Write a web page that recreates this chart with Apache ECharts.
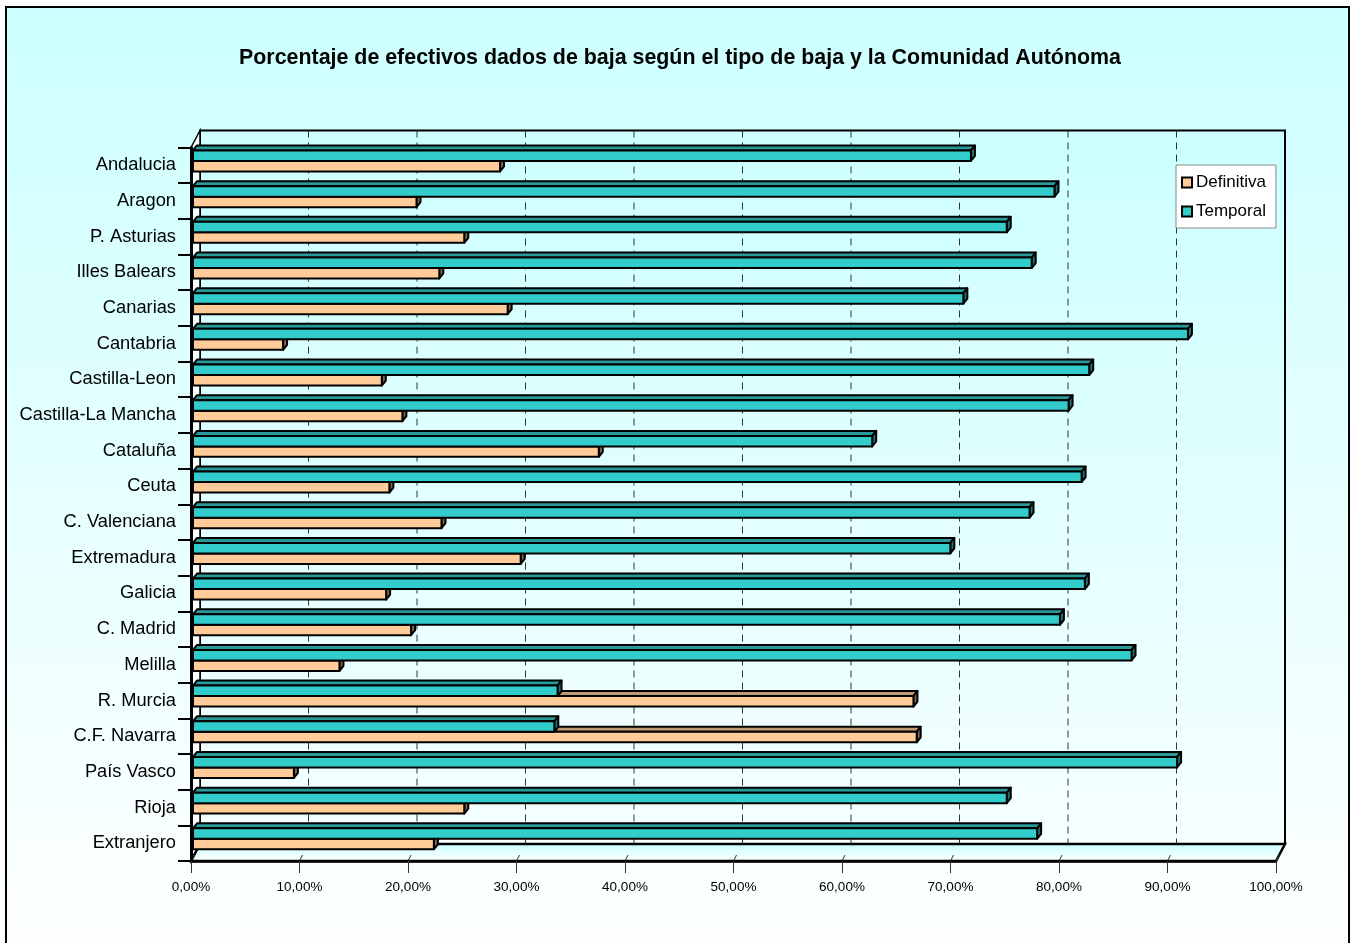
<!DOCTYPE html>
<html>
<head>
<meta charset="utf-8">
<title>Porcentaje de efectivos dados de baja</title>
<script src="https://cdn.jsdelivr.net/npm/echarts@6/dist/echarts.min.js"></script>
<style>
  html, body { margin: 0; padding: 0; background: #fff; }
  #chart { width: 1354px; height: 943px; }
</style>
</head>
<body>
<div id="chart"></div>
<script>
// datos (porcentaje sobre el total de bajas)
const categories = [
  "Andalucia", "Aragon", "P. Asturias", "Illes Balears", "Canarias", "Cantabria",
  "Castilla-Leon", "Castilla-La Mancha", "Cataluña", "Ceuta", "C. Valenciana",
  "Extremadura", "Galicia", "C. Madrid", "Melilla", "R. Murcia", "C.F. Navarra",
  "País Vasco", "Rioja", "Extranjero"
];
const definitiva = [28.3, 20.6, 25.0, 22.7, 29.0, 8.3, 17.4, 19.3, 37.4, 18.1,
                    22.9, 30.2, 17.8, 20.1, 13.5, 66.4, 66.7, 9.3, 25.0, 22.2];
const temporal = [71.7, 79.4, 75.0, 77.3, 71.0, 91.7, 82.6, 80.7, 62.6, 81.9,
                  77.1, 69.8, 82.2, 79.9, 86.5, 33.6, 33.3, 90.7, 75.0, 77.8];
const xTicks = [0, 10, 20, 30, 40, 50, 60, 70, 80, 90, 100];

const FONT = "Liberation Sans, Arial, sans-serif";
// profundidad 3D de las paredes y de las barras
const DX = 9, DY = -17;
const BDX = 4, BDY = -5;

const chart = echarts.init(document.getElementById("chart"));

function grad(c1, c2) {
  return new echarts.graphic.LinearGradient(0, 0, 0, 1, [
    { offset: 0, color: c1 },
    { offset: 1, color: c2 }
  ]);
}

// paredes, suelo y lineas de division
function renderFrame(params, api) {
  const n = categories.length;
  const bh = Math.abs(api.size([0, 1])[1]);
  const yTop = api.coord([0, 0])[1] - bh / 2;
  const yBot = api.coord([0, n - 1])[1] + bh / 2;
  const x0 = api.coord([xTicks[0], 0])[0];
  const x1 = api.coord([xTicks[xTicks.length - 1], 0])[0];
  const children = [];
  // pared del fondo
  children.push({
    type: "rect",
    shape: { x: x0 + DX, y: yTop + DY, width: x1 - x0, height: yBot - yTop },
    style: { fill: grad("#CCFFFF", "#F6FFFF"), stroke: "#000", lineWidth: 2 }
  });
  // pared izquierda
  children.push({
    type: "polygon",
    shape: { points: [[x0, yTop], [x0 + DX, yTop + DY], [x0 + DX, yBot + DY], [x0, yBot]] },
    style: { fill: grad("#F4FFFF", "#FFFFFF"), stroke: "#000", lineWidth: 1.5 }
  });
  // suelo
  children.push({
    type: "polygon",
    shape: { points: [[x0, yBot], [x1, yBot], [x1 + DX, yBot + DY], [x0 + DX, yBot + DY]] },
    style: { fill: grad("#C8FFFF", "#FFFFFF"), stroke: "#000", lineWidth: 2.5 }
  });
  xTicks.forEach(function (v) {
    const x = api.coord([v, 0])[0];
    if (v > xTicks[0] && v < xTicks[xTicks.length - 1]) {
      children.push({
        type: "line",
        shape: { x1: x + DX, y1: yTop + DY, x2: x + DX, y2: yBot + DY },
        style: { stroke: "#333", lineWidth: 1, lineDash: [7, 5] }
      });
    }
    children.push({
      type: "line",
      shape: { x1: x + 3, y1: yBot - 6, x2: x, y2: yBot },
      style: { stroke: "#333", lineWidth: 1 }
    });
  });
  return { type: "group", children: children };
}

// barra 3D: cara frontal, cara superior y lateral
function barRenderer(front, top, side, from, to) {
  return function (params, api) {
    const cat = api.value(1);
    const c = api.coord([0, cat]);
    const e = api.coord([api.value(0), cat]);
    const bh = Math.abs(api.size([0, 1])[1]);
    const yb = c[1] - bh / 2;
    const xa = c[0] + 2, xb = e[0] + 2;
    const ya = yb + bh * from, yz = yb + bh * to;
    const line = { stroke: "#000", lineWidth: 2, lineJoin: "round" };
    return {
      type: "group",
      children: [
        {
          type: "polygon",
          shape: { points: [[xa, ya], [xb, ya], [xb + BDX, ya + BDY], [xa + BDX, ya + BDY]] },
          style: Object.assign({ fill: top }, line)
        },
        {
          type: "polygon",
          shape: { points: [[xb, ya], [xb + BDX, ya + BDY], [xb + BDX, yz + BDY], [xb, yz]] },
          style: Object.assign({ fill: side }, line)
        },
        {
          type: "rect",
          shape: { x: xa, y: ya, width: xb - xa, height: yz - ya },
          style: Object.assign({ fill: front }, line)
        }
      ]
    };
  };
}

const opt = {
  backgroundColor: "#fff",
  animation: false,
  graphic: {
    elements: [{
      type: "rect",
      z: -10,
      silent: true,
      shape: { x: 6, y: 7, width: 1343, height: 960 },
      style: { fill: grad("#CCFFFF", "#FFFFFF"), stroke: "#000", lineWidth: 2 }
    }]
  },
  title: {
    text: "Porcentaje de efectivos dados de baja según el tipo de baja y la Comunidad Autónoma",
    left: 234,
    top: 43,
    textStyle: { fontFamily: FONT, fontSize: 21.4, fontWeight: "bold", color: "#000" }
  },
  legend: {
    data: ["Definitiva", "Temporal"],
    orient: "vertical",
    left: 1176,
    top: 165,
    padding: [9, 10, 8, 5],
    itemGap: 12,
    itemWidth: 10,
    itemHeight: 10,
    icon: "rect",
    backgroundColor: "#fff",
    borderColor: "#888",
    borderWidth: 1,
    borderRadius: 0,
    textStyle: { fontFamily: FONT, fontSize: 17, color: "#000", padding: [0, 0, 0, -1] }
  },
  grid: {
    left: 191,
    right: 78,
    top: 147.5,
    bottom: 82,
    containLabel: false,
    outerBoundsMode: "none"
  },
  xAxis: {
    type: "value",
    min: 0,
    max: 100,
    interval: 10,
    z: 5,
    axisLine: { show: true, lineStyle: { color: "#000", width: 2.5 } },
    axisTick: { show: true, length: 12, lineStyle: { color: "#333", width: 1 } },
    splitLine: { show: false },
    axisLabel: {
      margin: 19,
      fontFamily: FONT,
      fontSize: 13.5,
      color: "#000",
      formatter: function (v) { return v.toFixed(2).replace(".", ",") + "%"; }
    }
  },
  yAxis: {
    type: "category",
    data: categories,
    inverse: true,
    z: 5,
    axisLine: { show: true, lineStyle: { color: "#000", width: 3 } },
    axisTick: { show: true, length: 13, lineStyle: { color: "#000", width: 2 } },
    splitLine: { show: false },
    axisLabel: { margin: 15, fontFamily: FONT, fontSize: 18.3, color: "#000", padding: [4, 0, 0, 0] }
  },
  series: [
    {
      name: "frame",
      type: "custom",
      silent: true,
      clip: false,
      z: 1,
      encode: { x: 0, y: 1 },
      renderItem: renderFrame,
      data: [[0, 0]]
    },
    {
      name: "Definitiva",
      type: "custom",
      clip: false,
      z: 2,
      itemStyle: { color: "#FFCC99", borderColor: "#000", borderWidth: 1.5 },
      encode: { x: 0, y: 1 },
      renderItem: barRenderer("#FFCC99", "#BF9973", "#806650", 0.378, 0.672),
      data: definitiva.map(function (v, i) { return [v, i]; })
    },
    {
      name: "Temporal",
      type: "custom",
      clip: false,
      z: 3,
      itemStyle: { color: "#33CCCC", borderColor: "#000", borderWidth: 1.5 },
      encode: { x: 0, y: 1 },
      renderItem: barRenderer("#33CCCC", "#299999", "#1E7373", 0.084, 0.378),
      data: temporal.map(function (v, i) { return [v, i]; })
    }
  ]
};

chart.setOption(opt);
</script>
</body>
</html>
